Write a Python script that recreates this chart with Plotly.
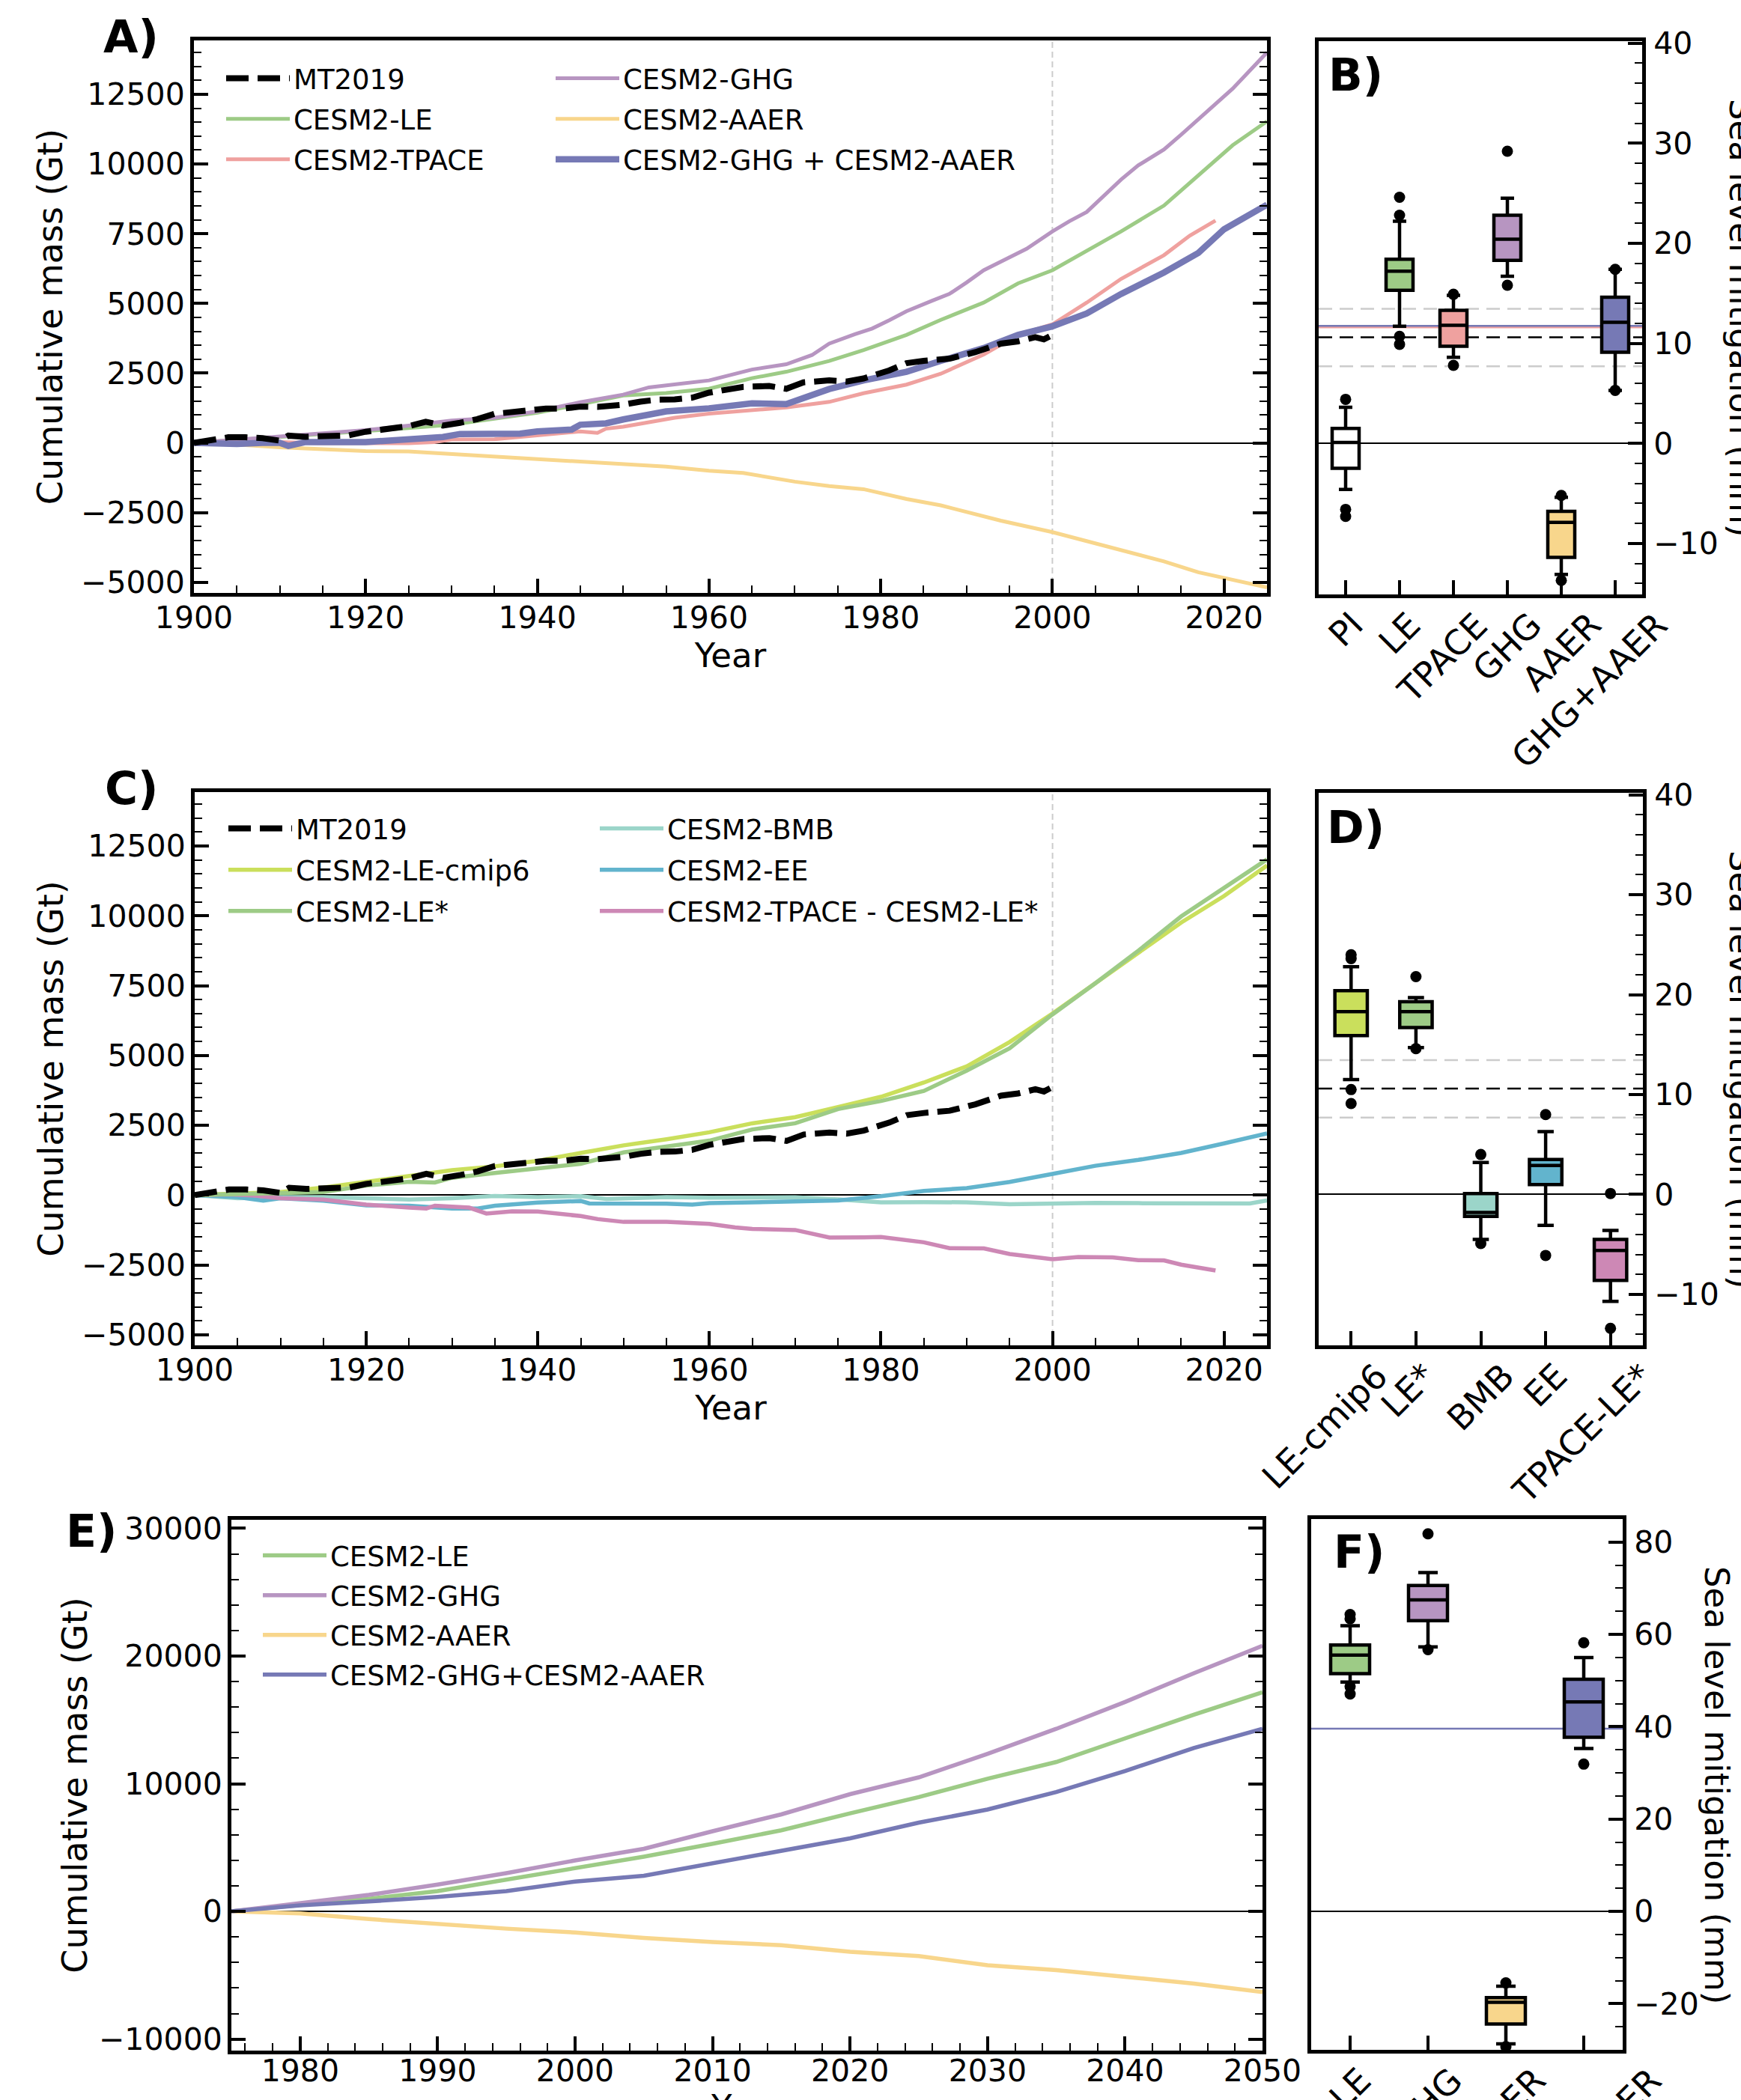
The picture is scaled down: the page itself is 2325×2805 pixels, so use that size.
import plotly.graph_objects as go

W, H = 2325, 2805
FONT = "DejaVu Sans"

# ---------------- Panel A data (cumulative mass, Gt) ----------------
A_MT2019_YEARS = [1900, 1902, 1904, 1906, 1908, 1910, 1911, 1913, 1916, 1918, 1920, 1923, 1925, 1927, 1929,
                  1931, 1933, 1935, 1937, 1939, 1941, 1943, 1945, 1947, 1949, 1950, 1952, 1954, 1956, 1958,
                  1960, 1962, 1964, 1967, 1969, 1971, 1974, 1976, 1978, 1981, 1983, 1985, 1988, 1991, 1994,
                  1996, 1998, 1999, 2000]
A_MT2019 = [0, 120, 200, 200, 170, 80, 260, 220, 220, 270, 400, 500, 600, 760, 620,
            720, 850, 1040, 1120, 1150, 1230, 1230, 1300, 1290, 1310, 1370, 1480, 1550, 1560, 1620,
            1800, 1930, 2010, 2040, 1940, 2170, 2240, 2200, 2310, 2600, 2860, 2940, 3020, 3250, 3560,
            3640, 3790, 3710, 3870]

A_LE_YEARS = [1900, 1905, 1910, 1915, 1920, 1925, 1930, 1935, 1940, 1945, 1950, 1955, 1960, 1965, 1969,
              1974, 1978, 1983, 1987, 1992, 1996, 2000, 2004, 2008, 2013, 2017, 2021, 2025]
A_LE = [0, 100, 200, 300, 410, 530, 650, 850, 1080, 1380, 1700, 1790, 1940, 2320, 2550,
        2940, 3330, 3870, 4410, 5030, 5720, 6190, 6880, 7580, 8510, 9590, 10670, 11530]

A_TPACE_YEARS = [1900, 1905, 1910, 1915, 1920, 1925, 1928, 1930, 1935, 1940, 1945, 1947, 1948, 1950, 1953,
                 1956, 1960, 1965, 1969, 1974, 1978, 1983, 1987, 1992, 1996, 2000, 2004, 2008, 2013, 2016,
                 2019]
A_TPACE = [0, 20, 30, -10, -20, -10, 30, 120, 130, 270, 410, 360, 510, 580, 750,
           900, 1050, 1160, 1270, 1470, 1780, 2090, 2480, 3170, 3870, 4250, 5030, 5880, 6730, 7430,
           7970]

A_GHG_YEARS = [1900, 1905, 1910, 1915, 1920, 1925, 1930, 1935, 1940, 1945, 1950, 1953, 1956, 1960, 1965,
               1969, 1972, 1974, 1977, 1979, 1981, 1983, 1986, 1988, 1990, 1992, 1995, 1997, 2000, 2002,
               2004, 2006, 2008, 2010, 2013, 2015, 2017, 2019, 2021, 2023, 2025]
A_GHG = [0, 120, 220, 330, 460, 620, 800, 900, 1130, 1460, 1730, 1990, 2090, 2240, 2630,
         2820, 3150, 3560, 3900, 4100, 4400, 4720, 5100, 5340, 5750, 6190, 6650, 6960, 7580, 7950,
         8280, 8850, 9440, 9950, 10520, 11050, 11600, 12150, 12700, 13350, 14000]

A_AAER_YEARS = [1900, 1905, 1910, 1915, 1920, 1925, 1930, 1935, 1940, 1945, 1950, 1955, 1960, 1964, 1970,
                1974, 1978, 1983, 1987, 1990, 1994, 2000, 2004, 2008, 2013, 2017, 2021, 2025]
A_AAER = [0, -60, -160, -230, -290, -310, -400, -500, -580, -690, -760, -850, -1000, -1080, -1390,
          -1550, -1660, -2010, -2240, -2480, -2790, -3200, -3530, -3870, -4250, -4640, -4900, -5180]

A_SUM_YEARS = [1900, 1903, 1905, 1908, 1910, 1911, 1913, 1920, 1925, 1927, 1929, 1931, 1935, 1938, 1940,
               1943, 1944, 1945, 1948, 1950, 1955, 1960, 1965, 1969, 1974, 1978, 1983, 1987, 1992, 1996,
               2000, 2004, 2008, 2013, 2017, 2020, 2025]
A_SUM = [0, -30, -40, 0, 0, -110, 30, 30, 130, 220, 210, 320, 320, 330, 410,
         470, 480, 650, 700, 840, 1130, 1240, 1420, 1390, 1930, 2240, 2550, 2940, 3400, 3870,
         4180, 4640, 5340, 6110, 6810, 7660, 8540]

# ---------------- Panel C data (cumulative mass, Gt) ----------------
C_LECMIP6_YEARS = [1900, 1905, 1910, 1915, 1920, 1925, 1930, 1935, 1940, 1945, 1950, 1955, 1960, 1965, 1970,
                   1975, 1980, 1985, 1990, 1995, 2000, 2005, 2010, 2015, 2020, 2025]
C_LECMIP6 = [0, 40, 110, 270, 480, 690, 890, 1030, 1230, 1510, 1780, 2000, 2250, 2570, 2790,
             3150, 3520, 4030, 4610, 5480, 6500, 7590, 8670, 9760, 10710, 11800]

C_LESTAR_YEARS = [1900, 1905, 1910, 1915, 1920, 1925, 1928, 1930, 1935, 1940, 1945, 1950, 1955, 1960, 1965,
                  1970, 1975, 1980, 1985, 1990, 1995, 2000, 2005, 2010, 2015, 2020, 2025]
C_LESTAR = [0, 30, 70, 110, 340, 480, 450, 620, 790, 960, 1120, 1530, 1740, 1950, 2350,
            2570, 3080, 3370, 3730, 4460, 5260, 6470, 7590, 8750, 9980, 11000, 12020]

C_BMB_YEARS = [1900, 1905, 1910, 1915, 1920, 1925, 1930, 1935, 1940, 1945, 1948, 1952, 1955, 1960, 1965,
               1970, 1975, 1980, 1985, 1990, 1995, 2000, 2005, 2010, 2015, 2020, 2023, 2025]
C_BMB = [0, -110, -70, -70, -110, -160, -110, -30, -70, -40, -140, -110, -70, -90, -70,
         -80, -150, -260, -250, -260, -330, -300, -280, -290, -300, -310, -300, -190]

C_EE_YEARS = [1900, 1903, 1905, 1908, 1910, 1915, 1920, 1925, 1930, 1933, 1935, 1940, 1945, 1946, 1950,
              1955, 1958, 1960, 1965, 1970, 1975, 1980, 1982, 1985, 1990, 1995, 2000, 2005, 2010, 2015,
              2020, 2025]
C_EE = [0, -50, -70, -200, -110, -200, -370, -380, -480, -480, -380, -270, -210, -300, -300,
        -310, -340, -290, -260, -220, -190, -40, 30, 150, 250, 470, 760, 1050, 1260, 1510,
        1850, 2210]

C_TPLE_YEARS = [1900, 1904, 1907, 1910, 1915, 1920, 1925, 1927, 1928, 1932, 1934, 1937, 1940, 1945, 1947,
                1950, 1955, 1960, 1963, 1965, 1970, 1974, 1978, 1980, 1985, 1988, 1992, 1995, 2000, 2003,
                2007, 2010, 2013, 2015, 2019]
C_TPLE = [0, 30, -20, -110, -160, -340, -450, -480, -380, -450, -660, -580, -590, -750, -860,
          -960, -960, -1030, -1160, -1210, -1250, -1520, -1510, -1500, -1690, -1900, -1910, -2110, -2300, -2220,
          -2230, -2330, -2340, -2490, -2700]

# ---------------- Panel E data (cumulative mass, Gt) ----------------
E_YEARS = [1975, 1980, 1985, 1990, 1995, 2000, 2005, 2010, 2015, 2020, 2025, 2030, 2035, 2040, 2045, 2050]
E_LE = [0, 480, 990, 1590, 2490, 3390, 4290, 5300, 6350, 7680, 8950, 10390, 11700, 13550, 15400, 17160]
E_GHG = [0, 630, 1290, 2100, 3000, 3990, 4900, 6280, 7600, 9180, 10500, 12340, 14300, 16400, 18650, 20800]
E_AAER = [0, -150, -600, -990, -1350, -1650, -2070, -2400, -2650, -3160, -3500, -4210, -4600, -5120, -5650, -6320]
E_SUM = [0, 480, 780, 1140, 1590, 2340, 2790, 3770, 4800, 5720, 6950, 7980, 9350, 10990, 12800, 14300]

# ---------------- Box panels (sea level mitigation, mm) ----------------
B_CATS = ["PI", "LE", "TPACE", "GHG", "AAER", "GHG+AAER"]
B_LOWER = [-4.6, 11.7, 8.6, 16.7, -13.1, 5.3]
B_Q1 = [-2.5, 15.3, 9.7, 18.3, -11.4, 9.1]
B_MEDIAN = [0.1, 17.2, 11.8, 20.4, -7.9, 12.1]
B_Q3 = [1.5, 18.4, 13.3, 22.8, -6.8, 14.6]
B_UPPER = [3.6, 22.2, 14.8, 24.5, -5.4, 17.4]
B_FLIER_CATS = ["PI", "PI", "PI", "LE", "LE", "LE", "LE", "TPACE", "TPACE", "GHG", "GHG",
                "AAER", "AAER", "GHG+AAER", "GHG+AAER"]
B_FLIER_VALUES = [4.4, -6.6, -7.3, 24.6, 22.8, 10.7, 9.9, 14.9, 7.8, 29.2, 15.8,
                  -5.2, -13.7, 17.4, 5.3]

D_CATS = ["LE-cmip6", "LE*", "BMB", "EE", "TPACE-LE*"]
D_LOWER = [11.5, 14.7, -4.5, -3.1, -10.7]
D_Q1 = [15.9, 16.7, -2.2, 1.0, -8.6]
D_MEDIAN = [18.3, 18.3, -1.8, 2.9, -5.6]
D_Q3 = [20.4, 19.3, 0.1, 3.5, -4.5]
D_UPPER = [22.8, 19.7, 3.2, 6.3, -3.6]
D_FLIER_CATS = ["LE-cmip6", "LE-cmip6", "LE-cmip6", "LE-cmip6", "LE*", "LE*", "BMB", "BMB",
                "EE", "EE", "TPACE-LE*", "TPACE-LE*"]
D_FLIER_VALUES = [24.0, 23.6, 10.5, 9.1, 21.8, 14.6, 4.0, -4.9, 8.0, -6.1, 0.1, -13.4]

F_CATS = ["LE", "GHG", "AAER", "GHG+AAER"]
F_LOWER = [49.7, 57.3, -28.7, 35.3]
F_Q1 = [51.5, 63.0, -24.4, 37.7]
F_MEDIAN = [55.5, 67.5, -19.7, 45.4]
F_Q3 = [57.7, 70.6, -18.7, 50.3]
F_UPPER = [61.9, 73.4, -16.2, 55.0]
F_FLIER_CATS = ["LE", "LE", "LE", "LE", "GHG", "GHG", "AAER", "AAER", "GHG+AAER", "GHG+AAER"]
F_FLIER_VALUES = [64.3, 63.4, 48.7, 47.1, 81.8, 56.7, -15.5, -29.3, 58.2, 31.9]

# reference levels
REF_YEAR = 2000
OBS_MEAN = 10.6
OBS_LOW = 7.7
OBS_HIGH = 13.45
B_TPACE_LEVEL = 11.6
B_SUM_LEVEL = 11.75
F_SUM_LEVEL = 39.6

# ---------------- styling ----------------
COL_LE = "#9DCB86"
COL_TPACE = "#EFA19F"
COL_GHG = "#B795C1"
COL_AAER = "#F8D68C"
COL_SUM = "#7679B5"
COL_LECMIP6 = "#CADF5C"
COL_BMB = "#9BD5C9"
COL_EE = "#62B4CD"
COL_TPLE = "#CD88B5"
GRAY = "#CCCCCC"

# horizontal nudges of the rotated category labels (style only)
B_LABEL_SHIFT = [0, 0, -15, 0, 0, -34]
D_LABEL_SHIFT = [-35, -10, 0, 0, -38]
F_LABEL_SHIFT = [0, 0, 0, 0]


def xdom(x0, x1):
    return [x0 / W, x1 / W]


def ydom(top, bottom):
    return [1 - bottom / H, 1 - top / H]


TICKFONT = dict(family=FONT, size=41, color="black")
TITLEFONT = dict(family=FONT, size=46, color="black")


def base_axis(**kw):
    d = dict(showline=True, linecolor="black", linewidth=5, ticks="inside", tickcolor="black",
             tickwidth=4, ticklen=19, tickfont=TICKFONT, showgrid=False, zeroline=False,
             automargin=False, tickformat="d")
    d.update(kw)
    return d


def minor(dt):
    return dict(ticks="inside", ticklen=10, tickwidth=2, tickcolor="black", dtick=dt, showgrid=False)


fig = go.Figure()


def line(x, y, name, color, width, xa, ya, legend, rank, dash=None):
    fig.add_trace(go.Scatter(x=x, y=y, mode="lines", name=name,
                             line=dict(color=color, width=width, dash=dash),
                             xaxis=xa, yaxis=ya, legend=legend, legendrank=rank,
                             legendgroup="%s-%s" % (legend, name)))


# Panel A
line(A_LE_YEARS, A_LE, "CESM2-LE", COL_LE, 5, "x", "y", "legend", 2)
line(A_TPACE_YEARS, A_TPACE, "CESM2-TPACE", COL_TPACE, 5, "x", "y", "legend", 3)
line(A_GHG_YEARS, A_GHG, "CESM2-GHG", COL_GHG, 5, "x", "y", "legend2", 1)
line(A_AAER_YEARS, A_AAER, "CESM2-AAER", COL_AAER, 5, "x", "y", "legend2", 2)
line(A_SUM_YEARS, A_SUM, "CESM2-GHG + CESM2-AAER", COL_SUM, 8.5, "x", "y", "legend2", 3)
line(A_MT2019_YEARS, A_MT2019, "MT2019", "black", 8, "x", "y", "legend", 1, dash="30px,12px")

# Panel C
line(C_BMB_YEARS, C_BMB, "CESM2-BMB", COL_BMB, 5.5, "x3", "y3", "legend4", 1)
line(C_EE_YEARS, C_EE, "CESM2-EE", COL_EE, 5.5, "x3", "y3", "legend4", 2)
line(C_TPLE_YEARS, C_TPLE, "CESM2-TPACE - CESM2-LE*", COL_TPLE, 5.5, "x3", "y3", "legend4", 3)
line(C_LECMIP6_YEARS, C_LECMIP6, "CESM2-LE-cmip6", COL_LECMIP6, 5.5, "x3", "y3", "legend3", 2)
line(C_LESTAR_YEARS, C_LESTAR, "CESM2-LE*", COL_LE, 5.5, "x3", "y3", "legend3", 3)
line(A_MT2019_YEARS, A_MT2019, "MT2019", "black", 8, "x3", "y3", "legend3", 1, dash="30px,12px")

# Panel E
line(E_YEARS, E_LE, "CESM2-LE", COL_LE, 5.5, "x5", "y5", "legend5", 1)
line(E_YEARS, E_GHG, "CESM2-GHG", COL_GHG, 5.5, "x5", "y5", "legend5", 2)
line(E_YEARS, E_AAER, "CESM2-AAER", COL_AAER, 5.5, "x5", "y5", "legend5", 3)
line(E_YEARS, E_SUM, "CESM2-GHG+CESM2-AAER", COL_SUM, 5.5, "x5", "y5", "legend5", 4)


def boxes(cats, lo, q1, med, q3, hi, fills, xa, ya, fl_cats, fl_vals):
    for i, c in enumerate(cats):
        fig.add_trace(go.Box(x=[c], lowerfence=[lo[i]], q1=[q1[i]], median=[med[i]], q3=[q3[i]],
                             upperfence=[hi[i]], fillcolor=fills[i], line=dict(color="black", width=4.5),
                             width=0.5, whiskerwidth=0.5, boxpoints=False, showlegend=False,
                             xaxis=xa, yaxis=ya, hoverinfo="skip"))
    fig.add_trace(go.Scatter(x=fl_cats, y=fl_vals, mode="markers", showlegend=False,
                             marker=dict(color="black", size=15), xaxis=xa, yaxis=ya))


boxes(B_CATS, B_LOWER, B_Q1, B_MEDIAN, B_Q3, B_UPPER,
      ["white", COL_LE, COL_TPACE, COL_GHG, COL_AAER, COL_SUM], "x2", "y2", B_FLIER_CATS, B_FLIER_VALUES)
boxes(D_CATS, D_LOWER, D_Q1, D_MEDIAN, D_Q3, D_UPPER,
      [COL_LECMIP6, COL_LE, COL_BMB, COL_EE, COL_TPLE], "x4", "y4", D_FLIER_CATS, D_FLIER_VALUES)
boxes(F_CATS, F_LOWER, F_Q1, F_MEDIAN, F_Q3, F_UPPER,
      [COL_LE, COL_GHG, COL_AAER, COL_SUM], "x6", "y6", F_FLIER_CATS, F_FLIER_VALUES)

# ---------------- axes ----------------
A_YRANGE = [-5380, 14430]
BOX_RANGE = [-15.1, 40.2]

ts_y = dict(zeroline=True, zerolinecolor="black", zerolinewidth=2, mirror="ticks", ticklabelstandoff=-1)
box_y = dict(side="right", mirror=True, zeroline=True, zerolinecolor="black", zerolinewidth=2,
             ticklabelstandoff=2)
box_x = dict(type="category", categoryorder="array", mirror=True, showticklabels=False)
year_title = dict(text="Year", font=dict(family=FONT, size=45, color="black"), standoff=10)
mass_title = dict(text="Cumulative mass (Gt)", font=TITLEFONT, standoff=11)

layout_axes = dict(
    xaxis=base_axis(domain=xdom(259, 1692), anchor="y", range=[1900, 2025], dtick=20, tick0=1900,
                    minor=minor(5), mirror=True, title=year_title, ticklabelstandoff=-7),
    yaxis=base_axis(domain=ydom(54, 792), anchor="x", range=A_YRANGE, dtick=2500, tick0=0,
                    minor=minor(500), title=mass_title, **ts_y),
    xaxis2=base_axis(domain=xdom(1761, 2193), anchor="y2", categoryarray=B_CATS, range=[-0.5, 5.5], **box_x),
    yaxis2=base_axis(domain=ydom(55, 794), anchor="x2", range=BOX_RANGE, dtick=10, tick0=0,
                     minor=minor(2), **box_y),
    xaxis3=base_axis(domain=xdom(260, 1692), anchor="y3", range=[1900, 2025], dtick=20, tick0=1900,
                     minor=minor(5), mirror=True, title=year_title, ticklabelstandoff=-7),
    yaxis3=base_axis(domain=ydom(1058, 1797), anchor="x3", range=A_YRANGE, dtick=2500, tick0=0,
                     minor=minor(500), title=mass_title, **ts_y),
    xaxis4=base_axis(domain=xdom(1761, 2194), anchor="y4", categoryarray=D_CATS, range=[-0.5, 4.5], **box_x),
    yaxis4=base_axis(domain=ydom(1059, 1797), anchor="x4", range=BOX_RANGE, dtick=10, tick0=0,
                     minor=minor(2), **box_y),
    xaxis5=base_axis(domain=xdom(309, 1686), anchor="y5", range=[1975, 2050], dtick=10, tick0=1980,
                     minor=minor(2), mirror=True, ticklabelstandoff=-13),
    yaxis5=base_axis(domain=ydom(2030, 2739), anchor="x5", range=[-10900, 30670], dtick=10000, tick0=0,
                     minor=minor(2000), title=dict(text="Cumulative mass (Gt)", font=TITLEFONT, standoff=2),
                     **ts_y),
    xaxis6=base_axis(domain=xdom(1751, 2167), anchor="y6", categoryarray=F_CATS, range=[-0.5, 3.5], **box_x),
    yaxis6=base_axis(domain=ydom(2029, 2738), anchor="x6", range=[-30, 85], dtick=20, tick0=0,
                     minor=minor(5), **box_y),
)

# ---------------- legends ----------------
LEGFONT = dict(family=FONT, size=37, color="black")


def leg(x_px, top_px, gap=3):
    return dict(x=x_px / W, y=1 - top_px / H, xanchor="left", yanchor="top", font=LEGFONT,
                bgcolor="rgba(0,0,0,0)", borderwidth=0, itemwidth=85, traceorder="grouped",
                tracegroupgap=gap)


# ---------------- shapes ----------------
shapes = []
for xa in ["x", "x3"]:
    shapes.append(dict(type="line", xref=xa, yref=xa.replace("x", "y") + " domain", x0=REF_YEAR, x1=REF_YEAR,
                       y0=0, y1=1, line=dict(color=GRAY, width=2, dash="8px,5px"), layer="below"))
for xa, ya in [("x2", "y2"), ("x4", "y4")]:
    for v, c in [(OBS_HIGH, GRAY), (OBS_LOW, GRAY), (OBS_MEAN, "black")]:
        shapes.append(dict(type="line", xref=xa + " domain", yref=ya, x0=0, x1=1, y0=v, y1=v,
                           line=dict(color=c, width=2.5, dash="18px,10px"), layer="below"))
shapes.append(dict(type="line", xref="x2 domain", yref="y2", x0=0, x1=1, y0=B_TPACE_LEVEL, y1=B_TPACE_LEVEL,
                   line=dict(color=COL_TPACE, width=2.5), layer="below"))
shapes.append(dict(type="line", xref="x2 domain", yref="y2", x0=0, x1=1, y0=B_SUM_LEVEL, y1=B_SUM_LEVEL,
                   line=dict(color=COL_SUM, width=2.5), layer="below"))
shapes.append(dict(type="line", xref="x6 domain", yref="y6", x0=0, x1=1, y0=F_SUM_LEVEL, y1=F_SUM_LEVEL,
                   line=dict(color=COL_SUM, width=2.5), layer="below"))

# ---------------- annotations ----------------
annotations = []
letters = [("A)", 175, 49), ("B)", 1810, 100), ("C)", 175, 1053), ("D)", 1810, 1105),
           ("E)", 122, 2045), ("F)", 1815, 2073)]
for t, x, y in letters:
    annotations.append(dict(text="<b>%s</b>" % t, x=x / W, y=1 - y / H, xref="paper", yref="paper",
                            xanchor="center", yanchor="middle", showarrow=False,
                            font=dict(family=FONT, size=60, color="black")))

# rotated category tick labels of the box panels
for cats, shifts, xa, ya in [(B_CATS, B_LABEL_SHIFT, "x2", "y2"), (D_CATS, D_LABEL_SHIFT, "x4", "y4"),
                             (F_CATS, F_LABEL_SHIFT, "x6", "y6")]:
    for c, s in zip(cats, shifts):
        annotations.append(dict(text=c, x=c, y=0, xref=xa, yref=ya + " domain", xanchor="center",
                                yanchor="top", yshift=-11, xshift=s, textangle=-45, showarrow=False,
                                font=dict(family=FONT, size=46, color="black")))

# right-hand titles (read top to bottom)
for x_px, y_px in [(2325, 424), (2325, 1428), (2293, 2384)]:
    annotations.append(dict(text="Sea level mitigation (mm)", x=x_px / W, y=1 - y_px / H, xref="paper",
                            yref="paper", xanchor="center", yanchor="middle", textangle=90, showarrow=False,
                            font=dict(family=FONT, size=45, color="black")))

# bottom x-axis title of panel E (partly beyond the page edge, as in the original)
annotations.append(dict(text="Year", x=(309 + 1686) / 2 / W, y=1 - 2814 / H, xref="paper", yref="paper",
                        xanchor="center", yanchor="middle", showarrow=False,
                        font=dict(family=FONT, size=45, color="black")))

fig.update_layout(
    template="none",
    width=W, height=H, autosize=False,
    margin=dict(l=0, r=0, t=0, b=0, autoexpand=False),
    paper_bgcolor="white", plot_bgcolor="white",
    font=dict(family=FONT, color="black"),
    boxmode="overlay",
    showlegend=True,
    legend=leg(297, 74),
    legend2=leg(737, 74),
    legend3=leg(300, 1076, 4),
    legend4=leg(796, 1076, 4),
    legend5=leg(346, 2047, 2),
    shapes=shapes,
    annotations=annotations,
    **layout_axes,
)

fig.write_html("out.html")
